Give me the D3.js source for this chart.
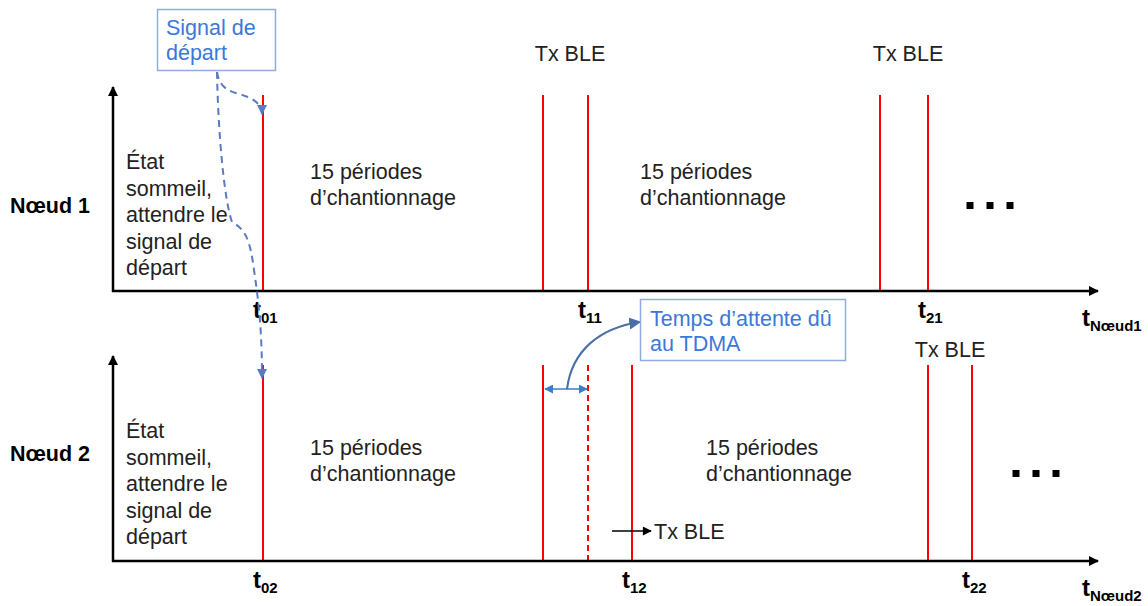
<!DOCTYPE html>
<html><head><meta charset="utf-8">
<script src="https://cdn.jsdelivr.net/npm/d3@7"></script>
<style>body{margin:0;background:#fff}svg{display:block;font-family:"Liberation Sans",Arial,sans-serif}</style>
</head><body><svg id="c" width="1148" height="606"></svg>
<script>
// ---- data ----
const nodes = ["Nœud 1", "Nœud 2"];
const axisLabels = ["Nœud1", "Nœud2"];
// event times (arbitrary time units)
const node1Events = [150, 430, 475, 767, 815];
const node1Dashed = [false, false, false, false, false];
const node2Events = [150, 430, 475, 519, 815, 859];
const node2Dashed = [false, false, true, false, false, false];
const node1Ticks = [{t:150, s:"01"}, {t:475, s:"11"}, {t:815, s:"21"}];
const node2Ticks = [{t:150, s:"02"}, {t:519, s:"12"}, {t:859, s:"22"}];
const sleepText = ["État", "sommeil,", "attendre le", "signal de", "départ"];
const periodText = ["15 périodes", "d’chantionnage"];
const node1Periods = [197, 527];
const node2Periods = [197, 593];
const txLabelsTop = [457, 795];
const tdmaWait = [430, 475];

const FS = 21.5;
const svg = d3.select("#c");
const x = d3.scaleLinear().domain([0, 985]).range([113, 1098]);
const panels = [
  {y: d3.scaleLinear().domain([0, 1]).range([291, 95]), events: node1Events, dashed: node1Dashed, ticks: node1Ticks, periods: node1Periods, lab: axisLabels[0], name: nodes[0], dots: 857, nameY: 213, perY: 179, dotY: 202, sleepY: 169},
  {y: d3.scaleLinear().domain([0, 1]).range([561, 364]), events: node2Events, dashed: node2Dashed, ticks: node2Ticks, periods: node2Periods, lab: axisLabels[1], name: nodes[1], dots: 903, nameY: 461, perY: 455, dotY: 470, sleepY: 438}
];

const defs = svg.append("defs");
function marker(id, color, w, h) {
  defs.append("marker").attr("id", id).attr("viewBox", "0 0 10 10").attr("refX", 9).attr("refY", 5)
    .attr("markerWidth", w).attr("markerHeight", h).attr("orient", "auto-start-reverse").attr("markerUnits", "userSpaceOnUse")
    .append("path").attr("d", "M0,0 L10,5 L0,10 Z").attr("fill", color);
}
marker("ak", "#000", 16, 10);
marker("ab", "#5b7bbf", 10, 10);
marker("ab2", "#3a7fc4", 9, 9);
marker("ab3", "#4a6fa8", 12, 12);
marker("ak2", "#000", 10, 9);

panels.forEach((p, i) => {
  const g = svg.append("g");
  const y0 = p.y(0), y1 = p.y(1);
  // red lines
  p.events.forEach((t, k) => {
    g.append("line").attr("x1", x(t)).attr("x2", x(t)).attr("y1", y0).attr("y2", y1 + (i === 1 ? 1 : 0))
      .attr("stroke", "#ff0000").attr("stroke-width", 2)
      .attr("stroke-dasharray", p.dashed[k] ? "6,4" : null);
  });
  // axes
  g.append("line").attr("x1", x(0)).attr("x2", x(0)).attr("y1", y0 + 1).attr("y2", y1 - 8)
    .attr("stroke", "#000").attr("stroke-width", 2.5).attr("marker-end", "url(#ak)");
  g.append("line").attr("x1", x(0) - 1).attr("x2", x(985)).attr("y1", y0).attr("y2", y0)
    .attr("stroke", "#000").attr("stroke-width", 2.5).attr("marker-end", "url(#ak)");
  // tick labels
  p.ticks.forEach(d => {
    const tx = g.append("text").attr("x", x(d.t) - 10).attr("y", y0 + 27).attr("font-weight", "bold").attr("font-size", 24);
    tx.append("tspan").text("t");
    tx.append("tspan").attr("dy", 5).attr("font-size", 15).text(d.s);
  });
  const ax = g.append("text").attr("x", 1082).attr("y", y0 + 35).attr("font-weight", "bold").attr("font-size", 24);
  ax.append("tspan").text("t");
  ax.append("tspan").attr("dy", 5).attr("font-size", 15).text(p.lab);
  // node name
  g.append("text").attr("x", 10).attr("y", p.nameY).attr("font-weight", "bold").attr("font-size", FS).text(p.name);
  // sleep text
  sleepText.forEach((s, k) => g.append("text").attr("x", 126).attr("y", p.sleepY + k * 26.5).attr("font-size", FS).attr("fill", "#222").text(s));
  // periods
  p.periods.forEach(t => {
    periodText.forEach((s, k) => g.append("text").attr("x", x(t)).attr("y", p.perY + k * 26).attr("font-size", FS).attr("fill", "#222").text(s));
  });
  // dots
  [0, 20, 40].forEach(o => g.append("rect").attr("x", x(p.dots) + o - 3.5).attr("y", p.dotY).attr("width", 7).attr("height", 7).attr("fill", "#000"));
});

// Tx BLE labels top
txLabelsTop.forEach(t => svg.append("text").attr("x", x(t)).attr("y", 61).attr("text-anchor", "middle").attr("font-size", FS).attr("fill", "#222").text("Tx BLE"));
svg.append("text").attr("x", x(837)).attr("y", 357).attr("text-anchor", "middle").attr("font-size", FS).attr("fill", "#222").text("Tx BLE");
// bottom arrow Tx BLE
svg.append("line").attr("x1", x(499)).attr("x2", x(538)).attr("y1", 531).attr("y2", 531).attr("stroke", "#000").attr("stroke-width", 1.5).attr("marker-end", "url(#ak2)");
svg.append("text").attr("x", x(541)).attr("y", 539).attr("font-size", FS).attr("fill", "#222").text("Tx BLE");

// Signal de départ box
svg.append("rect").attr("x", 157.5).attr("y", 9.5).attr("width", 118).attr("height", 61).attr("fill", "#fff").attr("stroke", "#8faee0").attr("stroke-width", 1.5);
["Signal de", "départ"].forEach((s, k) => svg.append("text").attr("x", 166).attr("y", 35 + k * 25).attr("font-size", FS).attr("fill", "#3c78d8").text(s));
// dashed arrows
svg.append("path").attr("d", "M217,72 C220,92 235,92 245,96 C258,100 262,108 262,114")
  .attr("fill", "none").attr("stroke", "#5b7bbf").attr("stroke-width", 2).attr("stroke-dasharray", "7,5").attr("marker-end", "url(#ab)");
svg.append("path").attr("d", "M217,72 C218,130 224,200 232,222 C246,230 250,240 254,270 C260,310 262,340 262,378")
  .attr("fill", "none").attr("stroke", "#5b7bbf").attr("stroke-width", 2).attr("stroke-dasharray", "7,5").attr("marker-end", "url(#ab)");

// TDMA double arrow
svg.append("line").attr("x1", x(tdmaWait[0]) + 2).attr("x2", x(tdmaWait[1]) - 1).attr("y1", 389).attr("y2", 389)
  .attr("stroke", "#3a7fc4").attr("stroke-width", 1.5).attr("marker-start", "url(#ab2)").attr("marker-end", "url(#ab2)");
svg.append("path").attr("d", "M567,389 C572,350 600,328 640,322").attr("fill", "none").attr("stroke", "#4a6fa8").attr("stroke-width", 2).attr("marker-end", "url(#ab3)");
svg.append("rect").attr("x", 640.5).attr("y", 299.5).attr("width", 205).attr("height", 61).attr("fill", "#fff").attr("stroke", "#8faee0").attr("stroke-width", 1.5);
["Temps d’attente dû", "au TDMA"].forEach((s, k) => svg.append("text").attr("x", 650).attr("y", 326 + k * 25).attr("font-size", FS).attr("fill", "#3c78d8").text(s));
</script></body></html>
